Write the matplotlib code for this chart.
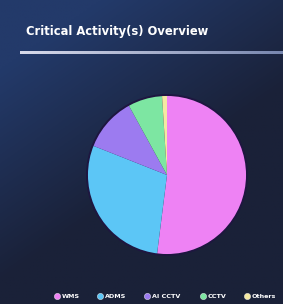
import numpy as np
import matplotlib
matplotlib.use("Agg")
import matplotlib.pyplot as plt
from matplotlib.lines import Line2D
from matplotlib.patches import Circle

# data
labels = ["WMS", "ADMS", "AI CCTV", "CCTV", "Others"]
values = [52, 29, 11, 7, 1]
colors = ["#ee82f4", "#5cc6f6", "#9c7bf0", "#7de6a2", "#f4e9a2"]

W, H = 283, 304
fig = plt.figure(figsize=(W / 100, H / 100), dpi=100)

# background gradient, bluer at top left, dark navy lower right
bg = fig.add_axes([0, 0, 1, 1])
yy, xx = np.mgrid[0:1:200j, 0:1:200j]
top = np.array([35, 58, 106]) / 255
bot = np.array([26, 33, 56]) / 255
t = np.clip((yy * 1.1 + xx * 0.7 - 0.25) * 1.3, 0, 1)[..., None]
img = top * (1 - t) + bot * t
bg.imshow(img, extent=[0, 1, 0, 1], aspect="auto", origin="upper")
bg.set_xlim(0, 1)
bg.set_ylim(0, 1)
bg.axis("off")

# title and underline
fig.text(26 / W, 1 - 31 / H, "Critical Activity(s) Overview", color="white",
         fontsize=8.3, fontweight="bold", va="center", ha="left")
ul = fig.add_axes([20 / W, 1 - 54 / H, 263 / W, 3 / H])
g = np.linspace(0, 1, 100)[None, :, None]
c0 = np.array([215, 218, 235]) / 255
c1 = np.array([120, 135, 175]) / 255
ul.imshow(c0 * (1 - g) + c1 * g, aspect="auto")
ul.axis("off")

# pie
cx, cy, r = 167, 175, 80
pad = 4
ax = fig.add_axes([(cx - r - pad) / W, (H - cy - r - pad) / H,
                   2 * (r + pad) / W, 2 * (r + pad) / H])
ax.pie(values, colors=colors, startangle=90, counterclock=False,
       wedgeprops=dict(linewidth=0))
ax.add_patch(Circle((0, 0), 1, fill=False, edgecolor="#1e1640", linewidth=1.4))
lim = (r + pad) / r
ax.set_xlim(-lim, lim)
ax.set_ylim(-lim, lim)
ax.axis("off")

# legend, drawn item by item
marker_x = [57, 100, 147, 203, 247]
ly = 1 - 296 / H
for mx, lab, c in zip(marker_x, labels, colors):
    bg.add_line(Line2D([mx / W], [ly], marker="o", markersize=4.5,
                       markerfacecolor=c, markeredgecolor="#ffffff",
                       markeredgewidth=0.3, linestyle=""))
    fig.text((mx + 5) / W, ly, lab, color="white", fontsize=4.6,
             fontweight="bold", va="center", ha="left")

fig.savefig("out.png", dpi=100)
